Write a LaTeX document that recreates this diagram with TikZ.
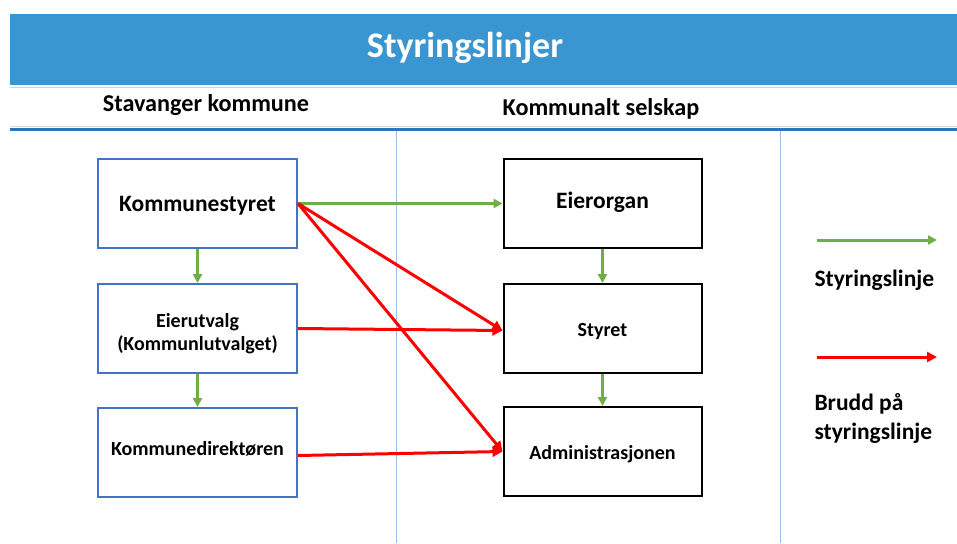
\documentclass[tikz,border=0pt]{standalone}
\usepackage{fontspec}
\setmainfont{Carlito}
\usepackage{tikz}
\usetikzlibrary{arrows.meta, positioning}

\definecolor{barblue}{RGB}{58,150,208}
\definecolor{lineblue}{RGB}{46,117,182}
\definecolor{paleblue}{RGB}{160,188,228}
\definecolor{boxblue}{RGB}{68,114,196}
\definecolor{styrgreen}{RGB}{112,173,71}
\definecolor{bruddred}{RGB}{255,0,0}

\begin{document}
\begin{tikzpicture}[x=1pt, y=-1pt,
			kommune/.style={draw=boxblue, line width=2pt, rectangle, minimum width=199pt, minimum height=89pt, font=\bfseries\fontsize{20}{23}\selectfont, align=center, text height=16pt, text depth=0pt},
			selskap/.style={draw=black, line width=2pt, rectangle, minimum width=198pt, minimum height=89pt, font=\bfseries\fontsize{20}{23}\selectfont, align=center, text height=16pt, text depth=0pt},
			styring/.style={line width=3pt, styrgreen, -{Triangle[length=9pt, width=9pt]}},
			brudd/.style={line width=3pt, bruddred, -{Triangle[length=10pt, width=10pt]}},
			overskrift/.style={font=\bfseries\fontsize{24.2}{28}\selectfont, anchor=base}
			]
			\useasboundingbox (0,0) rectangle (957,543);
			
			\fill[barblue] (10,14) rectangle (957,85);
			\draw[gray!35, line width=1pt] (10,87) -- (957,87);
			\draw[lineblue, line width=3pt] (10,129) -- (957,129);
			\draw[gray!30, line width=0.8pt] (10,126) -- (957,126);
			\draw[paleblue, line width=1pt] (396,131) -- (396,543);
			\draw[paleblue, line width=1pt] (780,131) -- (780,543);
			
			\node [font=\bfseries\fontsize{36}{40}\selectfont, text=white, anchor=base](tittel) at (465,58) {Styringslinjer};
			\node [overskrift](hsk) at (206,111) {Stavanger kommune};
			\node [overskrift](hks) at (601,115) {Kommunalt selskap};
			
			\node [kommune, font=\bfseries\fontsize{23.5}{28}\selectfont](ks) at (197.5,203.5) {Kommunestyret};
			\node [kommune, text height=44pt](eu) [below=34pt of ks] {Eierutvalg\\(Kommunlutvalget)};
			\node [kommune, text depth=10pt](kd) [below=33pt of eu] {Kommunedirektøren};
			
			\node [selskap, font=\bfseries\fontsize{23.5}{28}\selectfont, text depth=7pt](eo) at (602.5,203.5) {Eierorgan};
			\node [selskap](st) [below=34pt of eo] {Styret};
			\node [selskap](adm) [below=32pt of st] {Administrasjonen};
			
			\draw[styring] (ks) -- (eu);
			\draw[styring] (eu) -- (kd);
			\draw[styring] (eo) -- (st);
			\draw[styring] (st) -- (adm);
			\draw[styring] (ks.east) -- (eo.west);
			
			\draw[brudd] (ks.east) -- ([yshift=-2pt]st.west);
			\draw[brudd] (ks.east) -- (adm.west);
			\draw[brudd] (eu.east) -- ([yshift=-2pt]st.west);
			\draw[brudd] ([yshift=-3pt]kd.east) -- (adm.west);
			
			% forklaring
			\coordinate (g1) at (817,240);
			\coordinate (g2) at (937,240);
			\coordinate (r1) at (817,357);
			\coordinate (r2) at (937,357);
			\draw[styring] (g1) -- (g2);
			\draw[brudd] (r1) -- (r2);
			\node [font=\bfseries\fontsize{23.5}{29}\selectfont, anchor=west](lstyr) at (811,280) {Styringslinje};
			\node [font=\bfseries\fontsize{23.5}{29}\selectfont, anchor=west, align=left](lbrudd) at (811,418) {Brudd på\\styringslinje};
			
		\end{tikzpicture}
\end{document}
